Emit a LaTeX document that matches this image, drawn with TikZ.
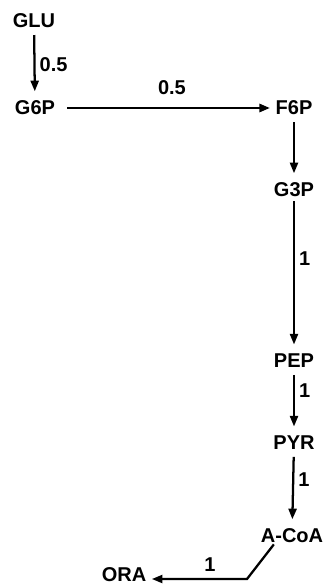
\documentclass[tikz,border=0pt]{standalone}
\usepackage{fontspec}
\setmainfont{Liberation Sans}
\usepackage{tikz}
\usetikzlibrary{arrows.meta}
\newcommand{\ChainX}{294}
\newcommand{\TopY}{108}
\newcommand{\PathFont}{\fontsize{15}{18}\selectfont\bfseries}

\begin{document}
\begin{tikzpicture}[x=0.75pt,y=-0.75pt,
 met/.style={inner sep=0pt,font=\PathFont},
 flux/.style={line width=1.7pt,-{Triangle[length=8pt,width=6pt]},shorten <=5pt,shorten >=7pt},
 rate/.style={inner sep=3pt,font=\PathFont}]
\useasboundingbox (0,0) rectangle (326,588);
% metabolites
\node[met] (glu) at (34,21) {GLU};
\node[met] (g6p) at (35,\TopY) {G6P};
\node[met] (f6p) at (\ChainX,\TopY) {F6P};
\node[met] (g3p) at (\ChainX,190) {G3P};
\node[met] (pep) at (\ChainX,361) {PEP};
\node[met] (pyr) at (\ChainX,443) {PYR};
\node[met] (acoa) at (292,536) {A-CoA};
\node[met] (ora) at (124,575) {ORA};
\coordinate (bend) at (247,579);
% fluxes
\draw[flux] (glu) -- node[rate,right,pos=.5] {0.5} (g6p);
\draw[flux,line width=2.2pt,shorten <=9pt,shorten >=4pt] (g6p) -- node[rate,above=6pt,pos=.53] {0.5} (f6p);
\draw[flux] (f6p) -- (g3p);
\draw[flux,shorten <=3pt] (g3p) -- node[rate,right,pos=.39] {1} (pep);
\draw[flux] (pep) -- node[rate,right,pos=.33] {1} (pyr);
\draw[flux] (pyr) -- node[rate,right,pos=.38] {1} (acoa);
\draw[flux,shorten <=1pt,shorten >=4pt] ([xshift=-13pt]acoa.south) -- (bend) -- node[rate,above=2pt,pos=.37] {1} (ora.east |- bend);
\end{tikzpicture}
\end{document}
